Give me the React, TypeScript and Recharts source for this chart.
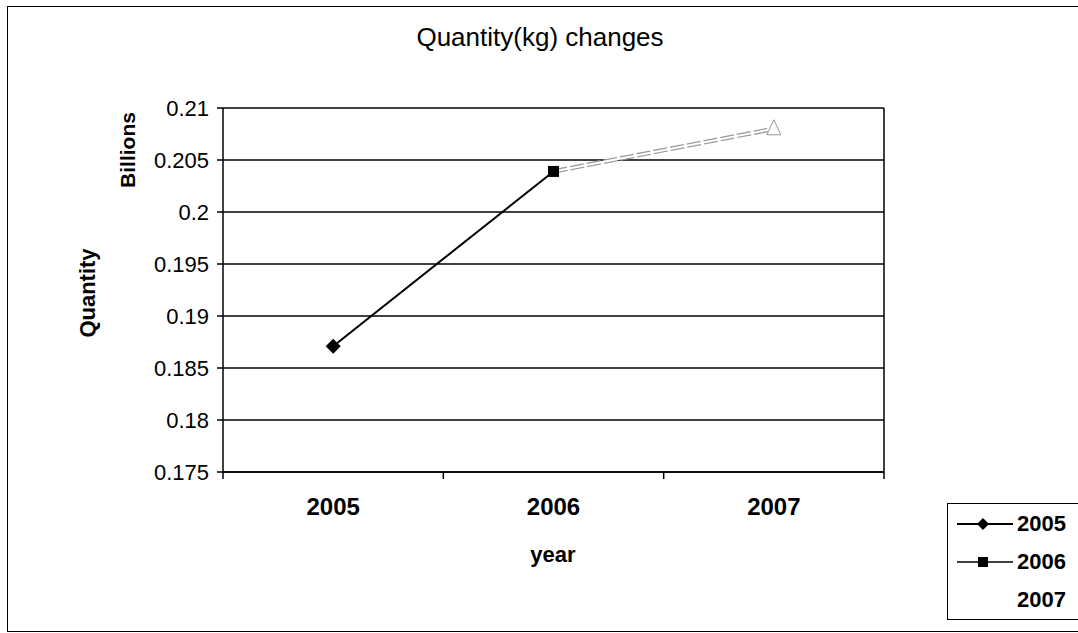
import { LineChart, Line, XAxis, YAxis, CartesianGrid, ReferenceLine } from "recharts";

// yearly quantity, in billions of kg
const years = ["2005", "2006", "2007"];
const quantity = [0.1871, 0.2039, 0.208];

const yTicks = [0.175, 0.18, 0.185, 0.19, 0.195, 0.2, 0.205, 0.21];

const legendItems = [
  { name: "2005", marker: "diamond" },
  { name: "2006", marker: "square" },
  { name: "2007", marker: "none" },
];

// each year's series runs from its own point to the next one
const rows = years.map((year, i) => ({
  pos: i + 0.5,
  year,
  q2005: i <= 1 ? quantity[i] : null,
  q2006: i >= 1 ? quantity[i] : null,
  q2007: i === 2 ? quantity[i] : null,
}));

// category edges get tick marks, centers get the year label
const xTicks = [...years.map((_, i) => i), years.length, ...years.map((_, i) => i + 0.5)].sort(
  (a, b) => a - b
);

const XTick = ({ x, y, payload }: any) => {
  const v = payload.value;
  if (Number.isInteger(v)) {
    return <line x1={x} x2={x} y1={y} y2={y + 7} stroke="#000" strokeWidth={1.5} />;
  }
  return (
    <text x={x} y={y + 43} textAnchor="middle" fontSize={24} fontWeight="bold" fill="#000">
      {years[Math.floor(v)]}
    </text>
  );
};

const Diamond = ({ cx, cy, index }: any) => {
  if (index !== 0 || cx == null) return <g key={`d${index}`} />;
  const r = 7.5;
  return (
    <path
      key={`d${index}`}
      d={`M${cx},${cy - r}L${cx + r},${cy}L${cx},${cy + r}L${cx - r},${cy}Z`}
      fill="#000"
    />
  );
};

const Square = ({ cx, cy, index }: any) => {
  if (index !== 1 || cx == null) return <g key={`s${index}`} />;
  return <rect key={`s${index}`} x={cx - 5.5} y={cy - 5.5} width={11} height={11} fill="#000" />;
};

const Triangle = ({ cx, cy, index }: any) => {
  if (cx == null) return <g key={`t${index}`} />;
  return (
    <path
      key={`t${index}`}
      d={`M${cx},${cy - 9}L${cx + 7},${cy + 6}L${cx - 7},${cy + 6}Z`}
      fill="#fff"
      stroke="#999"
      strokeWidth={1}
    />
  );
};

function LegendIcon({ marker }: { marker: string }) {
  if (marker === "none") return <svg width={56} height={14} />;
  return (
    <svg width={56} height={14}>
      <line x1={0} x2={56} y1={7} y2={7} stroke="#000" strokeWidth={marker === "diamond" ? 2 : 1.5} />
      {marker === "diamond" ? (
        <path d="M26,1L32,7L26,13L20,7Z" fill="#000" />
      ) : (
        <rect x={21} y={2} width={10} height={10} fill="#000" />
      )}
    </svg>
  );
}

export default function App() {
  return (
    <div
      style={{
        position: "absolute",
        left: 0,
        top: 0,
        width: 1078,
        height: 633,
        overflow: "hidden",
        background: "#fff",
        fontFamily: "'Liberation Sans', Arial, sans-serif",
        color: "#000",
      }}
    >
      {/* outer chart frame */}
      <div
        style={{
          position: "absolute",
          left: 7,
          top: 6,
          width: 1090,
          height: 624,
          border: "1.5px solid #000",
        }}
      />

      <LineChart
        width={1078}
        height={633}
        data={rows}
        margin={{ top: 108, right: 194, bottom: 0, left: 0 }}
        style={{ position: "absolute", left: 0, top: 0 }}
      >
        <CartesianGrid vertical={false} stroke="#000" strokeWidth={1.4} />
        <XAxis
          dataKey="pos"
          type="number"
          domain={[0, years.length]}
          ticks={xTicks}
          interval={0}
          tick={<XTick />}
          tickLine={false}
          tickSize={0}
          tickMargin={0}
          axisLine={{ stroke: "#000", strokeWidth: 1.5 }}
          height={161}
        />
        <YAxis
          type="number"
          domain={[0.175, 0.21]}
          ticks={yTicks}
          interval={0}
          width={223}
          tickSize={6}
          tickMargin={8}
          tickFormatter={(v: number) => String(+v.toFixed(3))}
          tick={{ fill: "#000", fontSize: 22 }}
          tickLine={{ stroke: "#000", strokeWidth: 1.5 }}
          axisLine={{ stroke: "#000", strokeWidth: 1.5 }}
        />
        <ReferenceLine x={years.length} stroke="#000" strokeWidth={1.5} />

        <Line
          dataKey="q2005"
          stroke="#000"
          strokeWidth={2}
          dot={<Diamond />}
          isAnimationActive={false}
          connectNulls={false}
        />
        {/* 2006 series: pale double line */}
        <Line
          dataKey="q2006"
          stroke="#9a9a9a"
          strokeWidth={4.5}
          strokeDasharray="14 3"
          dot={false}
          isAnimationActive={false}
        />
        <Line
          dataKey="q2006"
          stroke="#fff"
          strokeWidth={2}
          dot={<Square />}
          isAnimationActive={false}
        />
        <Line dataKey="q2007" stroke="none" dot={<Triangle />} isAnimationActive={false} />
      </LineChart>

      {/* titles */}
      <div
        style={{
          position: "absolute",
          left: 540,
          top: 37,
          transform: "translate(-50%, -50%)",
          fontSize: 26,
          whiteSpace: "nowrap",
        }}
      >
        Quantity(kg) changes
      </div>
      <div
        style={{
          position: "absolute",
          left: 553,
          top: 555,
          transform: "translate(-50%, -50%)",
          fontSize: 22,
          fontWeight: "bold",
        }}
      >
        year
      </div>
      <div
        style={{
          position: "absolute",
          left: 88,
          top: 293,
          transform: "translate(-50%, -50%) rotate(-90deg)",
          fontSize: 22,
          fontWeight: "bold",
          whiteSpace: "nowrap",
        }}
      >
        Quantity
      </div>
      <div
        style={{
          position: "absolute",
          left: 128,
          top: 150,
          transform: "translate(-50%, -50%) rotate(-90deg)",
          fontSize: 21,
          fontWeight: "bold",
          whiteSpace: "nowrap",
        }}
      >
        Billions
      </div>

      {/* legend */}
      <div
        style={{
          position: "absolute",
          left: 947,
          top: 503,
          width: 150,
          height: 117,
          border: "1.5px solid #000",
          boxSizing: "border-box",
          background: "#fff",
        }}
      >
        {legendItems.map((item, i) => (
          <div
            key={item.name}
            style={{
              position: "absolute",
              left: 9,
              top: 20 + i * 38,
              transform: "translateY(-50%)",
              display: "flex",
              alignItems: "center",
              fontSize: 22,
              fontWeight: "bold",
            }}
          >
            <LegendIcon marker={item.marker} />
            <span style={{ marginLeft: 4 }}>{item.name}</span>
          </div>
        ))}
      </div>
    </div>
  );
}
